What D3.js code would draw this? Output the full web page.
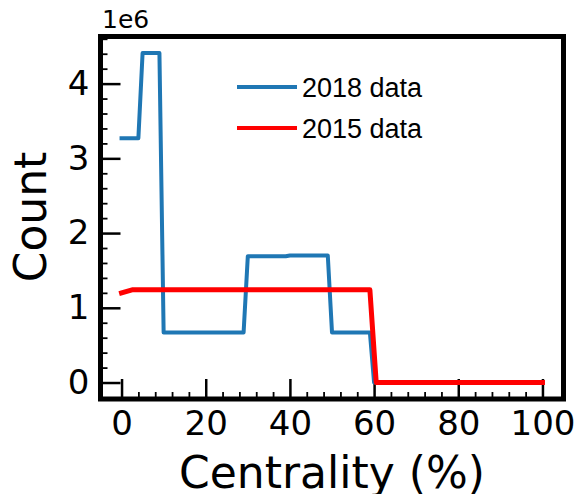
<!DOCTYPE html>
<html>
<head>
<meta charset="utf-8">
<script src="https://cdn.jsdelivr.net/npm/d3@7"></script>
<style>
    html, body { margin: 0; padding: 0; background: #fff; }
    svg { display: block; }
</style>
</head>
<body>
<div id="chart"></div>
<script>
// Centrality (%) breakpoints and counts (in units of 1e6)
const centrality2018 = [0, 4, 5, 9, 10, 19, 20, 29, 30, 39, 40, 49, 50, 59, 60, 100];
const counts2018 = [3.27, 3.27, 4.41, 4.41, 0.67, 0.67, 0.67, 0.67, 1.69, 1.69, 1.70, 1.70, 0.67, 0.67, 0, 0];

const centrality2015 = [0, 2.5, 10, 30, 50, 59, 60.5, 80, 100];
const counts2015 = [1.20, 1.24, 1.24, 1.24, 1.24, 1.24, 0, 0, 0];

const seriesNames = ['2018 data', '2015 data'];
const seriesColors = ['#1f77b4', '#ff0000'];

const xTicks = [0, 20, 40, 60, 80, 100];
const yTicks = [0, 1, 2, 3, 4];

const W = 579, H = 494;
const frame = { left: 100.5, right: 563.5, top: 36.5, bottom: 399 };

const svg = d3.select('#chart')
    .append('svg')
    .attr('width', W)
    .attr('height', H);

// Scales (matplotlib-style 5% margins)
const xScale = d3.scaleLinear()
    .domain([-5, 105])
    .range([frame.left, frame.right]);

const yMax = d3.max(counts2018.concat(counts2015));
const yPad = yMax * 0.05;
const yScale = d3.scaleLinear()
    .domain([-yPad, yMax + yPad])
    .range([frame.bottom, frame.top]);

const tickFont = 'DejaVu Sans, sans-serif';

// Minor ticks
const xMinor = d3.range(0, 101, 4).filter(v => v % 20 !== 0);
const yMinor = d3.range(0, 4.61, 0.2).filter(v => Math.abs(v - Math.round(v)) > 1e-6);

svg.append('g')
    .attr('transform', `translate(0,${frame.bottom})`)
    .call(d3.axisBottom(xScale).tickValues(xMinor).tickSize(-7).tickFormat(''))
    .call(g => g.select('.domain').remove())
    .call(g => g.selectAll('line').attr('stroke', '#000').attr('stroke-width', 1.8));

svg.append('g')
    .attr('transform', `translate(${frame.left},0)`)
    .call(d3.axisLeft(yScale).tickValues(yMinor).tickSize(-7).tickFormat(''))
    .call(g => g.select('.domain').remove())
    .call(g => g.selectAll('line').attr('stroke', '#000').attr('stroke-width', 1.8));

// Major ticks + labels
svg.append('g')
    .attr('transform', `translate(0,${frame.bottom})`)
    .call(d3.axisBottom(xScale).tickValues(xTicks).tickSize(-20).tickPadding(12).tickFormat(d3.format('d')))
    .call(g => g.select('.domain').remove())
    .call(g => g.selectAll('line').attr('stroke', '#000').attr('stroke-width', 2.5))
    .call(g => g.selectAll('text')
        .attr('fill', '#000')
        .style('font-family', tickFont)
        .style('font-size', '34px'));

svg.append('g')
    .attr('transform', `translate(${frame.left},0)`)
    .call(d3.axisLeft(yScale).tickValues(yTicks).tickSize(-20).tickPadding(11).tickFormat(d3.format('d')))
    .call(g => g.select('.domain').remove())
    .call(g => g.selectAll('line').attr('stroke', '#000').attr('stroke-width', 2.5))
    .call(g => g.selectAll('text')
        .attr('fill', '#000')
        .style('font-family', tickFont)
        .style('font-size', '34px'));

// Lines
const line = d3.line()
    .x(d => xScale(d[0]))
    .y(d => yScale(d[1]));

const series = [
    d3.zip(centrality2018, counts2018),
    d3.zip(centrality2015, counts2015)
];
const widths = [4, 5];

series.forEach((pts, i) => {
    svg.append('path')
        .datum(pts)
        .attr('d', line)
        .attr('fill', 'none')
        .attr('stroke', seriesColors[i])
        .attr('stroke-width', widths[i])
        .attr('stroke-linejoin', 'round')
        .attr('stroke-linecap', 'square');
});

// Frame
svg.append('rect')
    .attr('x', frame.left)
    .attr('y', frame.top)
    .attr('width', frame.right - frame.left)
    .attr('height', frame.bottom - frame.top)
    .attr('fill', 'none')
    .attr('stroke', '#000')
    .attr('stroke-width', 5);

// Offset text
svg.append('text')
    .attr('x', 102)
    .attr('y', 28)
    .style('font-family', tickFont)
    .style('font-size', '25px')
    .text('1e6');

// Axis labels
svg.append('text')
    .attr('x', (frame.left + frame.right) / 2)
    .attr('y', 488)
    .attr('text-anchor', 'middle')
    .style('font-family', tickFont)
    .style('font-size', '44px')
    .text('Centrality (%)');

svg.append('text')
    .attr('transform', 'rotate(-90)')
    .attr('x', -217)
    .attr('y', 46)
    .attr('text-anchor', 'middle')
    .style('font-family', tickFont)
    .style('font-size', '44px')
    .text('Count');

// Legend (no frame)
const legend = svg.append('g');
seriesNames.forEach((name, i) => {
    const y = 87 + i * 41;
    legend.append('line')
        .attr('x1', 237).attr('x2', 297)
        .attr('y1', y).attr('y2', y)
        .attr('stroke', seriesColors[i])
        .attr('stroke-width', 4);
    legend.append('text')
        .attr('x', 302)
        .attr('y', y + 10)
        .style('font-family', 'Liberation Sans, Arial, sans-serif')
        .style('font-size', '27px')
        .text(name);
});
</script>
</body>
</html>
